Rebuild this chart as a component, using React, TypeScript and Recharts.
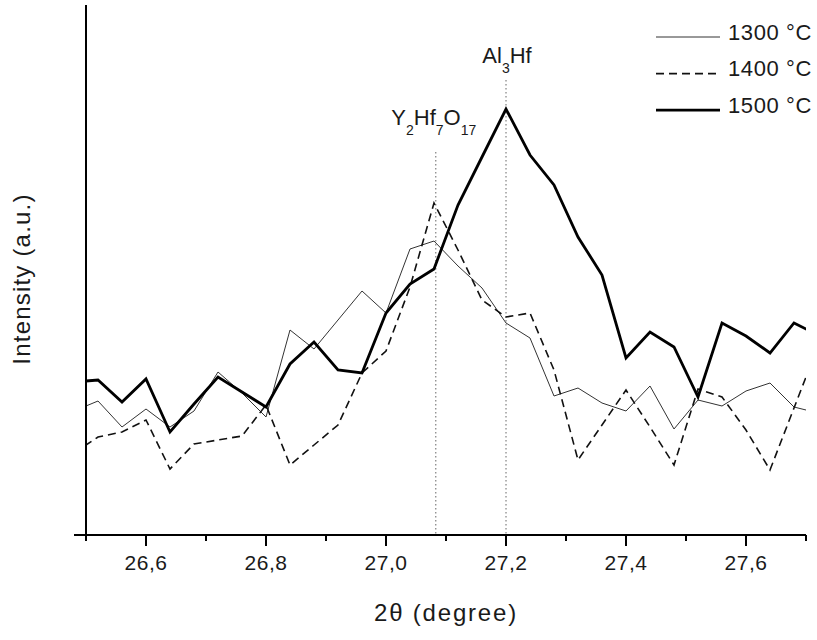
import React from 'react';
import { LineChart, Line, XAxis, YAxis, ReferenceLine, Legend } from 'recharts';

// 2θ positions (degree)
const theta = [
  26.48, 26.52, 26.56, 26.6, 26.64, 26.68, 26.72, 26.76, 26.8, 26.84, 26.88,
  26.92, 26.96, 27.0, 27.04, 27.08, 27.12, 27.16, 27.2, 27.24, 27.28, 27.32,
  27.36, 27.4, 27.44, 27.48, 27.52, 27.56, 27.6, 27.64, 27.68, 27.72,
];

// Intensity (a.u.)
const i1300 = [
  124, 134, 108, 126, 108, 124, 163, 142, 118, 205, 186, 215, 244, 222, 286, 294,
  269, 247, 212, 197, 139, 147, 132, 124, 149, 106, 135, 129, 144, 152, 128, 122,
];
const i1400 = [
  82, 98, 103, 115, 66, 91, 95, 99, 130, 70, 90, 110, 162, 184, 248, 332,
  285, 235, 218, 222, 165, 75, 110, 145, 108, 70, 146, 138, 105, 65, 127, 189,
];
const i1500 = [
  153, 155, 133, 156, 103, 131, 158, 143, 128, 171, 193, 165, 162, 222, 251, 266,
  330, 378, 426, 380, 350, 298, 260, 177, 203, 188, 138, 212, 199, 182, 212, 200,
];

const xTicks = [26.5, 26.6, 26.7, 26.8, 26.9, 27.0, 27.1, 27.2, 27.3, 27.4, 27.5, 27.6, 27.7];
const seriesNames = ['1300 °C', '1400 °C', '1500 °C'];
const seriesKeys = ['s1300', 's1400', 's1500'];
const seriesStroke = ['#333333', '#111111', '#000000'];
const seriesWidth = [1, 1.6, 2.8];
const seriesDash = [undefined, '8 5', undefined];

const peakAl3Hf = 27.2;
const peakY2Hf7O17 = 27.083;

const data = theta.map((t, i) => ({
  theta: t,
  s1300: i1300[i],
  s1400: i1400[i],
  s1500: i1500[i],
}));

const FONT = '"Liberation Sans", Arial, sans-serif';

const fmtTick = (v: number) => v.toFixed(1).replace('.', ',');

const XTick = (props: any) => {
  const { x, y, payload } = props;
  const v = payload.value as number;
  const major = Math.round(v * 10) % 2 === 0;
  return (
    <g>
      <line x1={x} y1={y} x2={x} y2={y + (major ? 11 : 6)} stroke="#000" strokeWidth={2} />
      {major && (
        <text x={x} y={y + 35} textAnchor="middle" fontSize={21} letterSpacing={0.5} fontFamily={FONT} fill="#1a1a1a">
          {fmtTick(v)}
        </text>
      )}
    </g>
  );
};

const XTitle = (props: any) => {
  const vb = props.viewBox;
  return (
    <text x={vb.x + vb.width / 2} y={vb.y + 86} textAnchor="middle" fontSize={24} letterSpacing={1.8} fontFamily={FONT} fill="#1a1a1a">
      2θ (degree)
    </text>
  );
};

const YTitle = (props: any) => {
  const vb = props.viewBox;
  const cx = vb.x + 30;
  const cy = vb.y + vb.height / 2 + 9;
  return (
    <text x={cx} y={cy} textAnchor="middle" fontSize={24} letterSpacing={1.2} fontFamily={FONT} fill="#1a1a1a" transform={`rotate(-90 ${cx} ${cy})`}>
      Intensity (a.u.)
    </text>
  );
};

const Al3HfLabel = (props: any) => {
  const vb = props.viewBox;
  return (
    <text x={vb.x + 1} y={vb.y - 17} textAnchor="middle" fontSize={22} fontFamily={FONT} fill="#1a1a1a">
      Al<tspan fontSize={14} dy={10}>3</tspan><tspan dy={-10}>Hf</tspan>
    </text>
  );
};

const YHfOLabel = (props: any) => {
  const vb = props.viewBox;
  return (
    <text x={vb.x - 2} y={vb.y - 27} textAnchor="middle" fontSize={22} fontFamily={FONT} fill="#1a1a1a">
      Y<tspan fontSize={14} dy={10}>2</tspan>
      <tspan dy={-10}>Hf</tspan>
      <tspan fontSize={14} dy={10}>7</tspan>
      <tspan dy={-10}>O</tspan>
      <tspan fontSize={14} dy={10}>17</tspan>
    </text>
  );
};

const LegendContent = () => (
  <svg width={170} height={100} style={{ display: 'block', overflow: 'visible' }}>
    {seriesNames.map((n, i) => {
      const base = 21.5 + i * 36.6;
      return (
        <g key={n}>
          <line x1={6} x2={70} y1={base - 2.5} y2={base - 2.5} stroke={seriesStroke[i]} strokeWidth={seriesWidth[i]} strokeDasharray={seriesDash[i]} />
          <text x={78} y={base} fontSize={22} letterSpacing={0.6} fontFamily={FONT} fill="#1a1a1a">
            {n}
          </text>
        </g>
      );
    })}
  </svg>
);

export default function App() {
  return (
    <div style={{ position: 'absolute', left: 0, top: 0, width: 817, height: 640, background: '#fff' }}>
      <LineChart width={817} height={640} data={data} margin={{ top: 5, right: 11, bottom: 0, left: 0 }}>
        <XAxis
          dataKey="theta"
          type="number"
          domain={[26.5, 27.7]}
          allowDataOverflow
          ticks={xTicks}
          interval={0}
          tickSize={0}
          tickMargin={0}
          tickLine={false}
          tick={<XTick />}
          height={105}
          axisLine={{ stroke: '#000', strokeWidth: 2 }}
          label={{ content: XTitle }}
        />
        <YAxis
          type="number"
          domain={[0, 530]}
          allowDataOverflow
          width={86}
          tick={false}
          tickLine={false}
          axisLine={{ stroke: '#000', strokeWidth: 2 }}
          label={{ content: YTitle }}
        />
        <ReferenceLine
          segment={[{ x: 26.48, y: 0 }, { x: 26.5, y: 0 }]}
          ifOverflow="visible"
          stroke="#000"
          strokeWidth={2}
        />
        <ReferenceLine
          segment={[{ x: 26.5, y: 0 }, { x: 26.5, y: -6 }]}
          ifOverflow="visible"
          stroke="#000"
          strokeWidth={2}
        />
        <ReferenceLine
          segment={[{ x: peakAl3Hf, y: 455 }, { x: peakAl3Hf, y: 0 }]}
          stroke="#666"
          strokeWidth={1}
          strokeDasharray="1.5 2.5"
          label={{ content: Al3HfLabel }}
        />
        <ReferenceLine
          segment={[{ x: peakY2Hf7O17, y: 383 }, { x: peakY2Hf7O17, y: 0 }]}
          stroke="#666"
          strokeWidth={1}
          strokeDasharray="1.5 2.5"
          label={{ content: YHfOLabel }}
        />
        {seriesKeys.map((k, i) => (
          <Line
            key={k}
            type="linear"
            dataKey={k}
            name={seriesNames[i]}
            stroke={seriesStroke[i]}
            strokeWidth={seriesWidth[i]}
            strokeDasharray={seriesDash[i]}
            dot={false}
            activeDot={false}
            isAnimationActive={false}
          />
        ))}
        <Legend
          layout="vertical"
          align="center"
          verticalAlign="middle"
          content={LegendContent}
          wrapperStyle={{ position: 'absolute', top: 18, left: 650, width: 170, height: 100 }}
        />
      </LineChart>
    </div>
  );
}
